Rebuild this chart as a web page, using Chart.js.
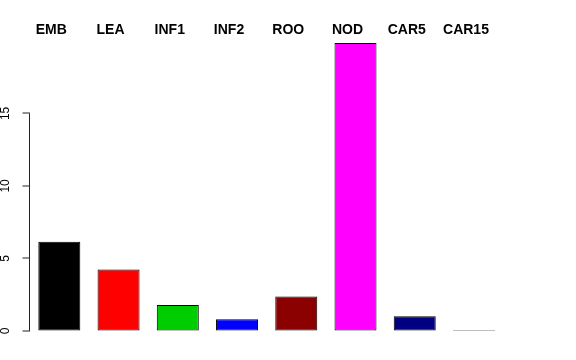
<!DOCTYPE html>
<html>
<head>
<meta charset="utf-8">
<script src="https://cdn.jsdelivr.net/npm/chart.js@4"></script>
<style>
  body { margin: 0; background: #fff; }
  #wrap { width: 576px; height: 360px; }
</style>
</head>
<body>
<div id="wrap"><canvas id="grafico"></canvas></div>
<script>

// dados
const categorias = ["EMB", "LEA", "INF1", "INF2", "ROO", "NOD", "CAR5", "CAR15"];
const valores = [6.14, 4.23, 1.79, 0.81, 2.37, 19.86, 1.01, 0.05];
const cores = ["#000000", "#FF0000", "#00CD00", "#0000FF", "#8B0000", "#FF00FF", "#000080", "#444444"];
const ticksY = [0, 5, 10, 15];

// eixo y estilo R: linha so entre o primeiro e o ultimo tick, com marcas
const eixoR = {
    id: "eixoR",
    afterDraw(chart) {
        const y = chart.scales.y;
        const ctx = chart.ctx;
        const x = Math.round(chart.chartArea.left) - 0.5;
        ctx.save();
        ctx.strokeStyle = "#222";
        ctx.lineWidth = 1;
        ctx.beginPath();
        ctx.moveTo(x, y.getPixelForValue(ticksY[0]));
        ctx.lineTo(x, y.getPixelForValue(ticksY[ticksY.length - 1]));
        ctx.stroke();
        for (const v of ticksY) {
            const py = Math.round(y.getPixelForValue(v));
            ctx.beginPath();
            ctx.moveTo(x + 0.5, py);
            ctx.lineTo(x - 7, py);
            ctx.stroke();
        }
        ctx.restore();
    }
};

new Chart(document.getElementById("grafico"), {
    type: "bar",
    data: {
        labels: categorias,
        datasets: [{
            data: valores,
            backgroundColor: cores,
            borderColor: "#000",
            borderWidth: 1,
            borderSkipped: false,
            minBarLength: 1,
            barPercentage: 0.709,
            categoryPercentage: 1
        }]
    },
    options: {
        responsive: true,
        maintainAspectRatio: false,
        animation: false,
        layout: { padding: { left: 0, right: 72.4, top: 0, bottom: 17.5 } },
        plugins: {
            legend: { display: false },
            tooltip: { enabled: false }
        },
        scales: {
            x: {
                position: "top",
                grid: { display: false, drawTicks: false },
                border: { display: false },
                afterFit: s => { s.height = 40; },
                ticks: {
                    padding: 1,
                    labelOffset: -8,
                    color: "#000",
                    font: { family: "Liberation Sans", size: 14, weight: "bold" }
                }
            },
            y: {
                min: -0.8,
                max: 20.06,
                afterFit: s => { s.width = 29.7; },
                afterBuildTicks: s => { s.ticks = ticksY.map(v => ({ value: v })); },
                grid: {
                    drawOnChartArea: false,
                    drawTicks: true,
                    tickLength: 7,
                    color: "rgba(0,0,0,0)"
                },
                border: { display: false },
                ticks: {
                    minRotation: 90,
                    maxRotation: 90,
                    crossAlign: "center",
                    padding: 10,
                    color: "#000",
                    font: { family: "Liberation Sans", size: 12 }
                }
            }
        }
    },
    plugins: [eixoR]
});

</script>
</body>
</html>
